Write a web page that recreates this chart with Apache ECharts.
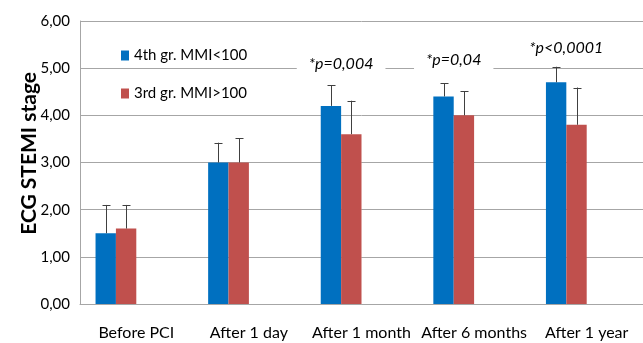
<!DOCTYPE html>
<html><head><meta charset="utf-8">
<script src="https://cdn.jsdelivr.net/npm/echarts@6/dist/echarts.min.js"></script>
<style>html,body{margin:0;padding:0;background:#fff;overflow:hidden}#c{width:643px;height:343px}</style>
</head><body><div id="c"></div>
<script>
var categories = ['Before PCI', 'After 1 day', 'After 1 month', 'After 6 months', 'After 1 year'];
var seriesNames = ['4th gr. MMI<100', '3rd gr. MMI>100'];
var blueValues = [1.50, 3.00, 4.20, 4.40, 4.70];
var redValues = [1.60, 3.00, 3.60, 4.00, 3.80];
var blueErrTop = [2.10, 3.42, 4.64, 4.68, 5.03];
var redErrTop = [2.10, 3.51, 4.31, 4.51, 4.59];
var pLabels = ['', '', '*p=0,004', '*p=0,04', '*p<0,0001'];
var pLabelY = [null, null, 5.10, 5.17, 5.43];
var yTicks = [0, 1, 2, 3, 4, 5, 6];

var FONT = 'Lato, "Open Sans", sans-serif';
var CAT_GAP = 0.276;
var BLUE = '#0070C0', RED = '#C0504D';

var chart = echarts.init(document.getElementById('c'), null, {renderer: 'canvas'});

function barW(api) { return api.size([1, 0])[0] * (1 - CAT_GAP) / 4; }

var errData = [];
for (var i = 0; i < categories.length; i++) {
  errData.push([i, blueValues[i], blueErrTop[i], -1.5]);
  errData.push([i, redValues[i], redErrTop[i], -0.5]);
}
var pData = [];
for (var j = 0; j < categories.length; j++) {
  if (pLabels[j]) pData.push([j, pLabelY[j], pLabels[j]]);
}

chart.setOption({
  animation: false,
  backgroundColor: '#fff',
  grid: {left: 80, top: 21, width: 566, height: 283, containLabel: false},
  legend: {
    data: seriesNames,
    orient: 'vertical',
    left: 116, top: 43,
    itemWidth: 8, itemHeight: 10, itemGap: 23,
    icon: 'rect',
    textStyle: {fontFamily: FONT, fontSize: 15, color: '#000'}
  },
  xAxis: {
    type: 'category', data: categories,
    axisLine: {lineStyle: {color: '#A6A6A6'}},
    axisTick: {show: false},
    axisLabel: {fontFamily: FONT, fontSize: 16, color: '#000', margin: 21, interval: 0}
  },
  yAxis: {
    type: 'value', min: 0, max: 6, interval: 1,
    axisLine: {show: true, lineStyle: {color: '#A6A6A6'}},
    axisTick: {show: false},
    splitLine: {lineStyle: {color: '#A6A6A6'}},
    axisLabel: {fontFamily: FONT, fontSize: 15, color: '#000', margin: 10,
      formatter: function (v) { return v.toFixed(2).replace('.', ','); }}
  },
  graphic: [{
    type: 'text', left: 19, top: 72, rotation: Math.PI / 2,
    style: {text: 'ECG STEMI stage', font: 'bold 21px ' + FONT, fill: '#000'}
  }],
  series: [
    {name: seriesNames[0], type: 'bar', data: blueValues, barGap: 0, barCategoryGap: (CAT_GAP * 100) + '%',
     itemStyle: {color: BLUE}, z: 2},
    {name: seriesNames[1], type: 'bar', data: redValues, barGap: 0, itemStyle: {color: RED}, z: 2},
    {name: 'spacer1', type: 'bar', data: [], barGap: 0},
    {name: 'spacer2', type: 'bar', data: [], barGap: 0},
    {
      type: 'custom', data: errData, z: 3,
      renderItem: function (params, api) {
        var bw = barW(api);
        var base = api.coord([api.value(0), api.value(1)]);
        var top = api.coord([api.value(0), api.value(2)]);
        var x = Math.round(base[0] + api.value(3) * bw) + 0.5;
        return {type: 'group', children: [
          {type: 'line', shape: {x1: x, y1: base[1], x2: x, y2: top[1]}, style: {stroke: '#404040', lineWidth: 1}},
          {type: 'line', shape: {x1: x - 4, y1: Math.round(top[1]) + 0.5, x2: x + 4, y2: Math.round(top[1]) + 0.5}, style: {stroke: '#404040', lineWidth: 1}}
        ]};
      }
    },
    {
      type: 'custom', data: pData, z: 4,
      renderItem: function (params, api) {
        var bw = barW(api);
        var p = api.coord([api.value(0), api.value(1)]);
        return {type: 'text', x: p[0] - bw, y: p[1],
          style: {text: pData[params.dataIndex][2], fill: '#000', font: 'italic 16px ' + FONT,
            align: 'center', verticalAlign: 'middle', backgroundColor: '#fff', padding: [3, 12]}};
      }
    }
  ]
});
</script></body></html>
